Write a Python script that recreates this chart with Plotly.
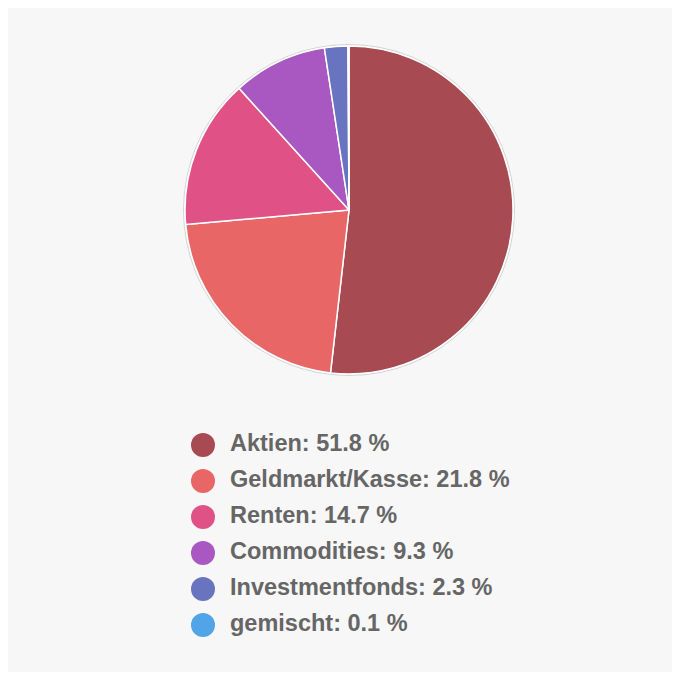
import plotly.graph_objects as go

labels = ["Aktien", "Geldmarkt/Kasse", "Renten", "Commodities", "Investmentfonds", "gemischt"]
values = [51.8, 21.8, 14.7, 9.3, 2.3, 0.1]
colors = ["#a84a52", "#e86666", "#e05285", "#a858c0", "#6874c0", "#52a4e8"]

W, H = 681, 680
OFF = 8  # page body margin
legend_text = [f"{l}: {v} %" for l, v in zip(labels, values)]
rows = list(range(len(labels)))

cx, cy, r = 349 - OFF, 210 - OFF, 164

fig = go.Figure()

fig.add_trace(go.Pie(
    labels=labels, values=values, sort=False, direction="clockwise", rotation=0,
    marker=dict(colors=colors, line=dict(color="white", width=1.5)),
    textinfo="none", showlegend=False, hoverinfo="label+percent",
    domain=dict(x=[(cx - r) / W, (cx + r) / W], y=[1 - (cy + r) / H, 1 - (cy - r) / H]),
))

# legend-like list drawn with scatter
fig.add_trace(go.Scatter(
    x=[203 - OFF] * len(labels), y=rows, mode="markers",
    marker=dict(size=24, color=colors, line=dict(width=0)),
    showlegend=False, hoverinfo="skip", xaxis="x", yaxis="y", cliponaxis=False,
))
fig.add_trace(go.Scatter(
    x=[230 - OFF] * len(labels), y=rows, mode="text", text=legend_text,
    textposition="middle right",
    textfont=dict(family="Liberation Sans, Arial, sans-serif", size=23.5, color="#666666", weight="bold"),
    showlegend=False, hoverinfo="skip", xaxis="x", yaxis="y", cliponaxis=False,
))

row_h = 36.0
top = 445 - OFF - row_h / 2
bot = top + row_h * len(labels)
fig.update_layout(
    width=W, height=H,
    margin=dict(l=0, r=0, t=0, b=0),
    paper_bgcolor="white", plot_bgcolor="rgba(0,0,0,0)",
    xaxis=dict(range=[0, W], domain=[0, 1], visible=False, fixedrange=True),
    yaxis=dict(range=[len(labels) - 0.5, -0.5], domain=[1 - bot / H, 1 - top / H],
               visible=False, fixedrange=True),
    shapes=[
        dict(type="rect", xref="paper", yref="paper", x0=0, x1=(672 - OFF) / W,
             y0=1 - (672 - OFF) / H, y1=1,
             fillcolor="#f7f7f7", line=dict(width=0), layer="below"),
        dict(type="circle", xref="paper", yref="paper",
             x0=(cx - r - 1.5) / W, x1=(cx + r + 1.5) / W,
             y0=1 - (cy + r + 1.5) / H, y1=1 - (cy - r - 1.5) / H,
             line=dict(color="#d4d4d4", width=1), layer="below"),
    ],
)

fig.write_html("out.html")
